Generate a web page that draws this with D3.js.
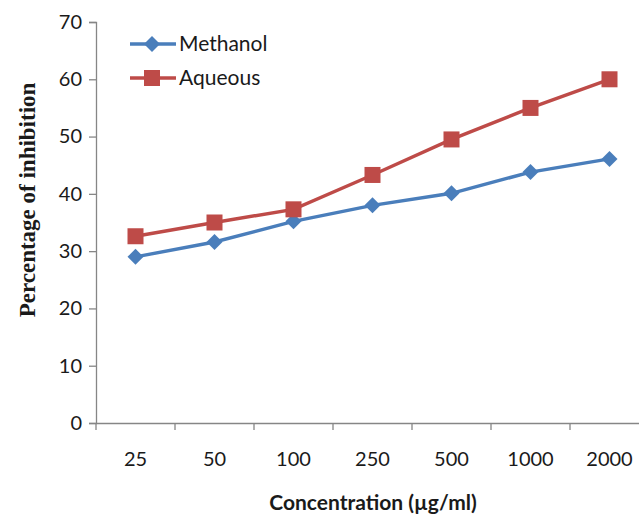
<!DOCTYPE html>
<html><head><meta charset="utf-8">
<script src="https://cdn.jsdelivr.net/npm/d3@7"></script>
<style>body{margin:0;background:#fff}</style>
</head><body>
<svg id="c" width="639" height="514"></svg>
<script>
const categories = ["25","50","100","250","500","1000","2000"];
const methanol = [29.0, 31.6, 35.2, 38.0, 40.1, 43.8, 46.1];
const aqueous = [32.6, 35.0, 37.3, 43.3, 49.5, 55.0, 60.0];
const yTicks = [0,10,20,30,40,50,60,70];
const series = [
  {name:"Methanol", values:methanol, color:"#4a7ebb", shape:"diamond"},
  {name:"Aqueous", values:aqueous, color:"#be4b48", shape:"square"}
];

(function(){
const svg = d3.select("#c");
const mLeft = 96, mRight = 649, mTop = 22, mBottom = 423;
const x = d3.scaleBand().domain(categories).range([mLeft, mRight]);
const y = d3.scaleLinear().domain([0,70]).range([mBottom, mTop]);
const axisColor = "#868686";
const tickFont = "Lato, 'Open Sans', sans-serif";

const ya = svg.append("g").attr("transform",`translate(${mLeft},0)`)
  .call(d3.axisLeft(y).tickValues(yTicks).tickSize(7).tickPadding(7));
ya.select(".domain").attr("stroke",axisColor).attr("stroke-width",1.3);
ya.selectAll(".tick line").attr("stroke",axisColor).attr("stroke-width",1.3);
ya.selectAll(".tick text").attr("font-family",tickFont).attr("font-size",20).attr("fill","#1a1a1a");

const xa = svg.append("g").attr("transform",`translate(0,${mBottom})`)
  .call(d3.axisBottom(x).tickSize(0).tickPadding(29));
xa.select(".domain").attr("stroke",axisColor).attr("stroke-width",1.3);
xa.selectAll(".tick text").attr("font-family",tickFont).attr("font-size",20).attr("fill","#1a1a1a");
const bounds = categories.map(c => x(c)).concat([x(categories[categories.length-1]) + x.bandwidth()]);
xa.selectAll(".btick").data(bounds).enter().append("line")
  .attr("x1",d=>d).attr("x2",d=>d).attr("y1",0).attr("y2",7)
  .attr("stroke",axisColor).attr("stroke-width",1.3);

const cx = c => x(c) + x.bandwidth()/2;
const line = d3.line().x((d,i)=>cx(categories[i])).y(d=>y(d));

function marker(g, shape, color, px, py){
  if(shape==="diamond"){
    g.append("path").attr("d",`M${px},${py-8}L${px+8},${py}L${px},${py+8}L${px-8},${py}Z`).attr("fill",color);
  } else {
    g.append("rect").attr("x",px-8).attr("y",py-8).attr("width",16).attr("height",16).attr("fill",color);
  }
}

series.forEach(s=>{
  svg.append("path").datum(s.values).attr("d",line).attr("fill","none")
    .attr("stroke",s.color).attr("stroke-width",3.4);
  const g = svg.append("g");
  s.values.forEach((v,i)=>marker(g, s.shape, s.color, cx(categories[i]), y(v)));
});

series.forEach((s,i)=>{
  const ly = 44 + i*34;
  svg.append("line").attr("x1",130).attr("x2",176).attr("y1",ly).attr("y2",ly)
    .attr("stroke",s.color).attr("stroke-width",3.4);
  marker(svg.append("g"), s.shape, s.color, 152, ly);
  svg.append("text").attr("x",179).attr("y",ly).attr("dy","0.35em")
    .attr("font-family",tickFont).attr("font-size",21).attr("fill","#1a1a1a").text(s.name);
});

svg.append("text").attr("transform","translate(27,200) rotate(-90)")
  .attr("text-anchor","middle").attr("dy","0.35em")
  .attr("font-family","'Liberation Serif', 'Times New Roman', serif").attr("font-weight","bold")
  .attr("font-size",23).attr("fill","#1a1a1a").text("Percentage of inhibition");
svg.append("text").attr("x",373).attr("y",503).attr("text-anchor","middle").attr("dy","0.35em")
  .attr("font-family",tickFont).attr("font-weight","bold")
  .attr("font-size",21).attr("fill","#1a1a1a").text("Concentration (µg/ml)");
})();
</script>
</body></html>
